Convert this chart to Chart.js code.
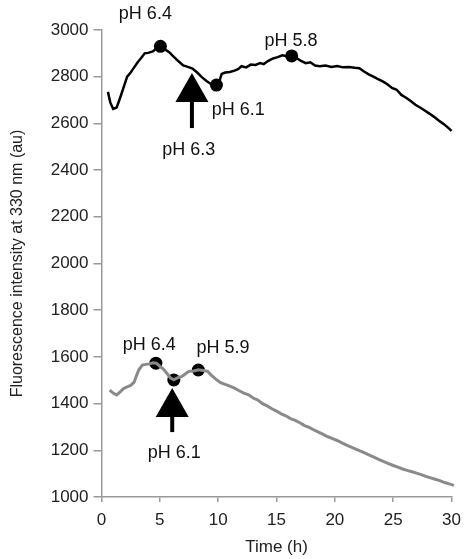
<!DOCTYPE html>
<html>
<head>
<meta charset="utf-8">
<script src="https://cdn.jsdelivr.net/npm/chart.js@4"></script>
<style>
  body { margin: 0; background: #fff; }
</style>
</head>
<body>
<canvas id="grafico" width="469" height="559"></canvas>
<script>
// curva de arriba (negra): [tiempo h, fluorescencia]
const curvaAlta = [[0.55,2735],[0.75,2690],[1.0,2662],[1.3,2668],[1.6,2710],[1.9,2755],[2.2,2800],[2.5,2818],[2.8,2840],[3.1,2862],[3.4,2880],[3.7,2900],[4.0,2902],[4.4,2908],[4.8,2925],[5.1,2928],[5.5,2915],[5.8,2905],[6.2,2885],[6.6,2866],[7.0,2848],[7.4,2842],[7.8,2835],[8.2,2818],[8.6,2798],[9.0,2782],[9.4,2768],[9.8,2762],[10.1,2780],[10.3,2812],[10.6,2818],[11.0,2820],[11.4,2826],[11.7,2832],[12.0,2845],[12.4,2840],[12.8,2852],[13.2,2850],[13.6,2858],[13.9,2854],[14.3,2868],[14.7,2878],[15.1,2884],[15.5,2892],[15.9,2888],[16.3,2890],[16.7,2880],[17.1,2868],[17.5,2858],[17.9,2862],[18.3,2848],[18.7,2845],[19.2,2848],[19.7,2842],[20.2,2846],[20.7,2840],[21.2,2842],[21.7,2838],[22.1,2836],[22.5,2822],[22.9,2810],[23.3,2800],[23.7,2790],[24.1,2780],[24.5,2768],[24.9,2752],[25.3,2744],[25.7,2722],[26.1,2710],[26.5,2696],[26.9,2680],[27.3,2668],[27.7,2655],[28.1,2642],[28.5,2628],[28.9,2612],[29.3,2598],[29.7,2582],[30.0,2568],[30.2,2556]];
// curva de abajo (gris)
const curvaBaja = [[0.7,1458],[1.0,1445],[1.3,1437],[1.6,1450],[1.9,1465],[2.2,1472],[2.5,1478],[2.8,1492],[3.0,1520],[3.2,1545],[3.5,1565],[3.8,1568],[4.1,1570],[4.4,1575],[4.7,1573],[5.0,1560],[5.3,1548],[5.6,1530],[5.9,1510],[6.2,1502],[6.5,1510],[6.9,1516],[7.2,1528],[7.5,1538],[7.9,1540],[8.3,1545],[8.7,1542],[9.1,1538],[9.4,1522],[9.8,1505],[10.2,1490],[10.6,1482],[11.0,1475],[11.4,1466],[11.8,1455],[12.2,1445],[12.6,1438],[13.0,1424],[13.4,1415],[13.8,1400],[14.2,1390],[14.6,1378],[15.0,1368],[15.4,1356],[15.8,1348],[16.2,1336],[16.6,1328],[17.0,1318],[17.4,1306],[17.8,1298],[18.2,1287],[18.6,1278],[19.0,1268],[19.4,1258],[19.8,1250],[20.2,1242],[20.6,1232],[21.0,1222],[21.4,1214],[21.8,1205],[22.2,1196],[22.6,1188],[23.0,1178],[23.4,1170],[23.8,1160],[24.2,1152],[24.6,1143],[25.0,1135],[25.4,1128],[25.8,1120],[26.2,1114],[26.6,1108],[27.0,1102],[27.4,1096],[27.8,1088],[28.2,1082],[28.6,1076],[29.0,1070],[29.4,1062],[29.8,1056],[30.2,1050]];

// puntos marcados
const puntosAlta = [[5.05,2930],[9.85,2764],[16.3,2889]];
const puntosBaja = [[4.66,1573],[6.2,1501],[8.3,1544]];

// flechas: tiempo, punta, cola
const flechaTiempo = [7.75, 6.06];
const flechaPunta = [2816, 1467];
const flechaCola = [2580, 1278];

// etiquetas de pH
const etiquetaTexto = ["pH 6.4", "pH 5.8", "pH 6.1", "pH 6.3", "pH 6.4", "pH 5.9", "pH 6.1"];
const etiquetaTiempo = [3.76, 16.25, 11.73, 7.47, 4.09, 10.42, 6.24];
const etiquetaValor = [3068, 2954, 2657, 2488, 1651, 1637, 1187];

const ticksX = [0, 5, 10, 15, 20, 25, 30];
const ticksY = [1000, 1200, 1400, 1600, 1800, 2000, 2200, 2400, 2600, 2800, 3000];

const fuente = "'Liberation Sans', Arial, sans-serif";

const toXY = arr => arr.map(p => ({x: p[0], y: p[1]}));

const anotaciones = {
  id: 'anotaciones',
  afterDatasetsDraw(chart) {
    const ctx = chart.ctx;
    const sx = chart.scales.x, sy = chart.scales.y;
    ctx.save();
    // flechas
    ctx.fillStyle = '#000';
    ctx.strokeStyle = '#000';
    for (let i = 0; i < flechaTiempo.length; i++) {
      const x = sx.getPixelForValue(flechaTiempo[i]);
      const yTip = sy.getPixelForValue(flechaPunta[i]);
      const yTail = sy.getPixelForValue(flechaCola[i]);
      const head = 29, half = 16.5;
      ctx.beginPath();
      ctx.moveTo(x, yTip);
      ctx.lineTo(x + half, yTip + head);
      ctx.lineTo(x - half, yTip + head);
      ctx.closePath();
      ctx.fill();
      ctx.lineWidth = 4;
      ctx.beginPath();
      ctx.moveTo(x, yTip + head - 1);
      ctx.lineTo(x, yTail);
      ctx.stroke();
    }
    // textos
    ctx.font = '18px ' + fuente;
    ctx.fillStyle = '#111';
    ctx.textAlign = 'center';
    ctx.textBaseline = 'middle';
    for (let i = 0; i < etiquetaTexto.length; i++) {
      ctx.fillText(etiquetaTexto[i], sx.getPixelForValue(etiquetaTiempo[i]), sy.getPixelForValue(etiquetaValor[i]));
    }
    ctx.restore();
  }
};

const ctxG = document.getElementById('grafico');
new Chart(ctxG, {
  type: 'scatter',
  data: {
    datasets: [
      {data: toXY(curvaAlta), showLine: true, borderColor: '#000', borderWidth: 2.5, pointRadius: 0, tension: 0, clip: false},
      {data: toXY(curvaBaja), showLine: true, borderColor: '#8a8a8a', borderWidth: 3, pointRadius: 0, tension: 0, clip: false},
      {data: toXY(puntosAlta), pointRadius: 6.5, backgroundColor: '#000', borderColor: '#000', borderWidth: 0, clip: false},
      {data: toXY(puntosBaja), pointRadius: 6.5, backgroundColor: '#000', borderColor: '#000', borderWidth: 0, clip: false}
    ]
  },
  options: {
    responsive: false,
    animation: false,
    events: [],
    layout: {padding: {top: 30, right: 12, left: 0, bottom: 0}},
    plugins: {legend: {display: false}, tooltip: {enabled: false}},
    scales: {
      x: {
        type: 'linear', min: 0, max: 30,
        afterBuildTicks: s => { s.ticks = ticksX.map(v => ({value: v})); },
        afterFit: s => { s.height = 62; },
        border: {color: '#999', width: 1.5},
        grid: {drawOnChartArea: false, drawTicks: true, tickLength: 5, color: '#999', lineWidth: 1.5},
        ticks: {color: '#222', font: {family: fuente, size: 17}, padding: 8, maxRotation: 0, callback: v => String(v)},
        title: {display: true, text: 'Time (h)', color: '#222', font: {family: fuente, size: 17}, padding: {top: 0, bottom: 1}}
      },
      y: {
        type: 'linear', min: 1000, max: 3000,
        afterBuildTicks: s => { s.ticks = ticksY.map(v => ({value: v})); },
        afterFit: s => { s.width = 101.5; },
        border: {color: '#999', width: 1.5},
        grid: {drawOnChartArea: false, drawTicks: true, tickLength: 8, color: '#999', lineWidth: 1.5},
        ticks: {color: '#222', font: {family: fuente, size: 17}, padding: 5, callback: v => String(v)},
        title: {display: true, text: 'Fluorescence intensity at 330 nm (au)', color: '#222', font: {family: fuente, size: 16}, padding: {top: 8, bottom: 0}}
      }
    }
  },
  plugins: [anotaciones]
});
</script>
</body>
</html>
